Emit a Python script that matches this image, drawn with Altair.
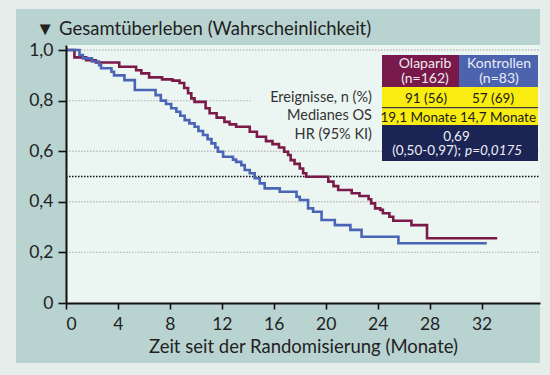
import altair as alt
import pandas as pd

# ---------------- data ----------------
ola_t = [0, 0.65, 1.55, 2.3, 4.1, 5.4, 5.8, 6.4, 7.4, 8.2, 8.75, 9.1, 9.4, 9.65, 9.9,
         10.75, 11.06, 11.6, 12.2, 12.6, 13.1, 14.15, 14.7, 15.4, 15.9, 16.4, 16.8,
         17.1, 17.3, 17.6, 18.0, 18.26, 18.5, 20.2, 20.6, 20.96, 22.0, 22.6, 23.3,
         23.5, 23.8, 24.2, 24.4, 24.9, 25.2, 26.6, 27.8, 33.2]
ola_s = [1.0, 0.971, 0.96, 0.951, 0.934, 0.92, 0.908, 0.892, 0.884, 0.879, 0.87, 0.85,
         0.829, 0.809, 0.795, 0.77, 0.75, 0.733, 0.716, 0.706, 0.697, 0.677, 0.657,
         0.64, 0.628, 0.615, 0.598, 0.585, 0.565, 0.55, 0.532, 0.513, 0.499, 0.48,
         0.462, 0.447, 0.434, 0.423, 0.41, 0.394, 0.374, 0.368, 0.355, 0.341, 0.325,
         0.308, 0.256, 0.256]

kon_t = [0, 1.04, 1.3, 2.0, 2.55, 2.7, 3.5, 3.7, 4.5, 5.3, 6.9, 7.3, 7.7, 8.1, 8.5, 8.8,
         9.14, 9.5, 9.9, 10.2, 10.55, 10.9, 11.2, 11.5, 11.7, 12.1, 12.86, 13.1, 13.5,
         13.76, 14.15, 14.53, 14.92, 15.3, 16.46, 17.75, 18.0, 18.64, 19.03, 19.68,
         20.7, 21.9, 22.76, 25.6, 32.4]
kon_s = [1.0, 0.98, 0.967, 0.955, 0.94, 0.928, 0.914, 0.9, 0.881, 0.842, 0.822, 0.80,
         0.787, 0.77, 0.756, 0.74, 0.723, 0.71, 0.697, 0.68, 0.664, 0.648, 0.631, 0.615,
         0.598, 0.578, 0.567, 0.558, 0.545, 0.526, 0.513, 0.493, 0.473, 0.453, 0.44,
         0.42, 0.407, 0.374, 0.361, 0.328, 0.308, 0.289, 0.262, 0.236, 0.236]

groups = ["Olaparib", "Kontrollen"]
x_ticks = [0, 4, 8, 12, 16, 20, 24, 28, 32]
y_ticks = [0, 0.2, 0.4, 0.6, 0.8, 1.0]
grid_y = [1.0, 0.8, 0.6, 0.4, 0.2]
grid_end = [36.5, 14.2, 36.5, 36.5, 36.5]
median_level = [0.5]

title_text = "▼ Gesamtüberleben (Wahrscheinlichkeit)"
x_title = "Zeit seit der Randomisierung (Monate)"
head_names = ["Olaparib", "Kontrollen"]
head_n = ["(n=162)", "(n=83)"]
events = ["91 (56)", "57 (69)"]
median_os = ["19,1 Monate", "14,7 Monate"]
hr_value = "0,69"
hr_ci = "(0,50-0,97);"
hr_p = "p=0,0175"
row_labels = ["Ereignisse, n (%)", "Medianes OS", "HR (95% KI)"]

# ---------------- styles ----------------
FONT = "Lato"
MAROON = "#7b1a48"
BLUE = "#4a65b6"
H_MAROON = "#77194a"
H_BLUE = "#4c63ae"
YELLOW = "#f8ec10"
NAVY = "#1c2454"
OUTER = "#e6eeeb"
PANEL = "#b9d3d1"
PLOTBG = "#ebf5f2"
W, H = 474, 258
XMAX = 36.5
YMAX = 1.02

curves = pd.concat([
    pd.DataFrame({"t": ola_t, "s": ola_s, "g": groups[0]}),
    pd.DataFrame({"t": kon_t, "s": kon_s, "g": groups[1]}),
])
grid_df = pd.DataFrame({"y": grid_y, "x1": 0.0, "x2": grid_end})
med_df = pd.DataFrame({"y": median_level, "x1": 0.0, "x2": XMAX})

one = alt.Data(values=[{"a": 1}])

xscale = alt.Scale(domain=[0, XMAX], nice=False, zero=False)
yscale = alt.Scale(domain=[0, YMAX], nice=False)


def box(x, x2, y, y2, color):
    return alt.Chart(one).mark_rect(color=color, strokeWidth=0).encode(
        x=alt.value(x), x2=alt.value(x2), y=alt.value(y), y2=alt.value(y2))


def label(txt, x, y, size=14, color="#2a2a2a", align="center", style="normal"):
    return alt.Chart(one).mark_text(
        font=FONT, fontSize=size, color=color, align=align, baseline="alphabetic",
        fontStyle=style).encode(x=alt.value(x), y=alt.value(y), text=alt.value(txt))


panel = box(-50, 474, -36, 318, PANEL)
plotbg = box(0, W, 0, H, PLOTBG)
title = label(title_text, -30, -10, 18.5, "#222222", align="left")

grid = alt.Chart(grid_df).mark_rule(color="#bdbdbd", strokeWidth=1.4, strokeDash=[1.5, 1.5]).encode(
    x=alt.X("x1:Q", scale=xscale), x2="x2:Q", y=alt.Y("y:Q", scale=yscale))

median = alt.Chart(med_df).mark_rule(color="#111111", strokeWidth=1.4, strokeDash=[1.5, 1.5]).encode(
    x=alt.X("x1:Q", scale=xscale), x2="x2:Q", y=alt.Y("y:Q", scale=yscale))

lines = alt.Chart(curves).mark_line(interpolate="step-after", strokeWidth=2.6).encode(
    x=alt.X("t:Q", scale=xscale,
            axis=alt.Axis(values=x_ticks, title=x_title, grid=False, tickSize=6,
                          labelPadding=6, titlePadding=5, titleFontSize=18.5,
                          titleFontWeight="normal", labelFontSize=17.5, zindex=1)),
    y=alt.Y("s:Q", scale=yscale,
            axis=alt.Axis(values=y_ticks, title=None, grid=False, tickSize=8,
                          labelPadding=5, labelFontSize=17.5, zindex=1,
                          labelExpr="datum.value == 0 ? '0' : replace(format(datum.value, '.1f'), '.', ',')")),
    color=alt.Color("g:N", scale=alt.Scale(domain=groups, range=[MAROON, BLUE]), legend=None),
    order=alt.Order("t:Q"),
)

L, M, R = 316, 393, 472
TS = 13.5
HS = 14
table = [
    box(L, M, 10, 42, H_MAROON),
    box(M, R, 10, 42, H_BLUE),
    box(L, R, 42, 62, YELLOW),
    box(L, R, 62, 63.5, "#3a3a30"),
    box(L, R, 63.5, 80, YELLOW),
    box(L, R, 80, 116, NAVY),
    label(head_names[0], 359, 23, HS, "#f1e9ef"),
    label(head_n[0], 359, 38, HS, "#f1e9ef"),
    label(head_names[1], 433, 23, HS, "#e9edf7"),
    label(head_n[1], 433, 38, HS, "#e9edf7"),
    label(events[0], 360, 58, TS, "#1a1a1a"),
    label(events[1], 427, 58, TS, "#1a1a1a"),
    label(median_os[0], 352.5, 76.5, TS, "#1a1a1a"),
    label(median_os[1], 432, 76.5, TS, "#1a1a1a"),
    label(hr_value, 390.5, 96, TS, "#eef0f6"),
    label(hr_ci, 395, 110, TS, "#eef0f6", align="right"),
    label(hr_p, 399, 110, TS, "#eef0f6", align="left", style="italic"),
    label(row_labels[0], 306, 57, 14.5, "#333333", align="right"),
    label(row_labels[1], 306, 75, 14.5, "#333333", align="right"),
    label(row_labels[2], 306, 93.5, 14.5, "#333333", align="right"),
]

chart = alt.layer(panel, plotbg, grid, median, lines, title, *table).properties(
    width=W, height=H,
    autosize=alt.AutoSizeParams(type="none"),
    padding={"left": 66, "top": 45, "right": 10, "bottom": 72},
    background=OUTER,
).configure_view(stroke=None, fill=None).configure_axis(
    domainColor="#111111", domainWidth=2, tickColor="#111111", tickWidth=1.6,
    labelColor="#222222", titleColor="#222222", labelFont=FONT, titleFont=FONT,
)

chart.save("out.html", embed_options={"renderer": "svg", "actions": False})
